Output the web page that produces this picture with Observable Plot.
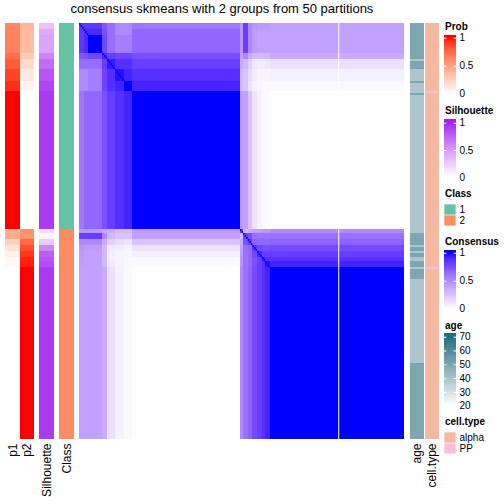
<!DOCTYPE html>
<html><head><meta charset="utf-8">
<script src="https://cdn.jsdelivr.net/npm/d3@7"></script>
<script src="https://cdn.jsdelivr.net/npm/@observablehq/plot@0.6"></script>
<style>
body{margin:0;background:white;}
#chart{position:relative;width:504px;height:504px;overflow:hidden;font-family:"Liberation Sans",Arial,Helvetica,sans-serif;color:black;}
.ttl{position:absolute;left:5px;width:434px;text-align:center;font-size:13px;line-height:13px;white-space:nowrap;}
.lt{position:absolute;left:445px;font-size:10px;line-height:10px;font-weight:bold;white-space:nowrap;}
</style></head>
<body><div id="chart"></div>
<script>
// ---------------- data ----------------
const title = "consensus skmeans with 2 groups from 50 partitions";
const classNames = ["1", "2"];
const classColors = ["#66C2A5", "#FC8D62"];
// sample segments in row/column order (class 1 then class 2)
const segmentSizes = [3, 3, 9, 3, 5, 6, 5, 69, 2, 3, 3, 3, 3, 2, 3, 86];
const segmentClass = ["1","1","1","1","1","1","1","1","2","2","2","2","2","2","2","2"];
// consensus value between segment pairs (symmetric)
const consensusBlocks = [
 [.85,.85,.85,.72,.62,.50,.50,.58, .45,.82,.50,.45,.42,.42,.42,.40],
 [.85,.90,.90,.75,.62,.50,.50,.65, .45,.82,.50,.42,.40,.40,.40,.40],
 [.85,.90,1.0,.78,.62,.55,.55,.65, .45,.82,.50,.42,.40,.40,.40,.40],
 [.72,.75,.78,.90,.82,.80,.80,.75, .40,.50,.35,.30,.30,.30,.30,.35],
 [.62,.62,.62,.82,.95,.88,.88,.82, .35,.30,.20,.10,.08,.08,.10,.13],
 [.50,.50,.55,.80,.88,.97,.92,.88, .30,.25,.15,.08,.05,.05,.05,.06],
 [.50,.50,.55,.80,.88,.92,1.0,.92, .30,.25,.12,.06,.04,.03,.03,.03],
 [.58,.65,.65,.75,.82,.88,.92,1.0, .42,.40,.25,.12,.06,.03,.02,.00],
 [.45,.45,.45,.40,.35,.30,.30,.42, .75,.30,.35,.40,.42,.45,.45,.50],
 [.82,.82,.82,.50,.30,.25,.25,.40, .30,.80,.75,.62,.60,.60,.60,.60],
 [.50,.50,.50,.35,.20,.15,.12,.25, .35,.75,.80,.65,.65,.65,.65,.67],
 [.45,.42,.42,.30,.10,.08,.06,.12, .40,.62,.65,.85,.78,.75,.75,.77],
 [.42,.40,.40,.30,.08,.05,.04,.06, .42,.60,.65,.78,.90,.82,.82,.82],
 [.42,.40,.40,.30,.08,.05,.03,.03, .45,.60,.65,.75,.82,.95,.88,.87],
 [.42,.40,.40,.30,.10,.05,.03,.02, .45,.60,.65,.75,.82,.88,.97,.92],
 [.40,.40,.40,.35,.13,.06,.03,.00, .50,.60,.67,.77,.82,.87,.92,1.0]
];
const selfConsensus = 1;
const p1Seg = [.62,.64,.64,.72,.80,.88,.94,1, .42,.45,.25,.15,.08,.04,.03,0];
const p2Seg = [.38,.36,.36,.28,.20,.12,.06,0, .58,.55,.75,.85,.92,.96,.97,1];
const silhouetteSeg = [.30,.42,.45,.60,.72,.82,.88,.92, .18,.05,.25,.60,.78,.82,.85,.92];
const ageValues = [50,39,50,39,50,39,50,39, 39,50,39,50,39,50,39,50,39,50,39,50];
const ageCounts = [18,1,4,6,1,5,1,67, 2,6,1,2,1,2,2,3,1,5,42,38];
const cellTypeNames = ["alpha", "PP"];
const cellTypeColors = ["#F4B9A0", "#F9C0DE"];
const cellTypeRuns = ["alpha", "PP", "alpha", "PP", "alpha"];
const cellTypeCounts = [34, 1, 87, 1, 85];
const whiteGapColumn = 165.9;
const probTicks = [0, 0.5, 1];
const silhouetteTicks = [0, 0.5, 1];
const consensusTicks = [0, 0.5, 1];
const ageTicks = [20, 30, 40, 50, 60, 70];
const ageDomain = [20, 70];
const ageColor = "#1B6F80";

// ---------------- derived tables ----------------
const N = d3.sum(segmentSizes);
const segStart = segmentSizes.map((_, k) => d3.sum(segmentSizes.slice(0, k)));
const blocks = [];
segmentSizes.forEach((sa, a) => segmentSizes.forEach((sb, b) => blocks.push({
  x1: segStart[b], x2: segStart[b] + sb, y1: segStart[a], y2: segStart[a] + sa, v: consensusBlocks[a][b]
})));
const diag = d3.range(N).map(i => ({i, v: selfConsensus}));
const segRows = segmentSizes.map((s, k) => ({y1: segStart[k], y2: segStart[k] + s, k}));
const probData = segRows.flatMap(r => [
  {col: "p1", y1: r.y1, y2: r.y2, v: p1Seg[r.k]},
  {col: "p2", y1: r.y1, y2: r.y2, v: p2Seg[r.k]}]);
const silData = segRows.map(r => ({col: "Silhouette", y1: r.y1, y2: r.y2, v: silhouetteSeg[r.k]}));
const classData = segRows.map(r => ({col: "Class", y1: r.y1, y2: r.y2, v: segmentClass[r.k]}));
function runs(values, counts, col) {
  let s = 0;
  return values.map((v, j) => { const o = {col, y1: s, y2: s + counts[j], v}; s += counts[j]; return o; });
}
const ageData = runs(ageValues, ageCounts, "age");
const cellData = runs(cellTypeRuns, cellTypeCounts, "cell.type");

// ---------------- drawing ----------------
const FONT = "'Liberation Sans', Arial, Helvetica, sans-serif";
const chart = document.getElementById("chart");
function place(svg, left, top) {
  svg.style.position = "absolute";
  svg.style.left = left + "px";
  svg.style.top = top + "px";
  svg.style.background = "transparent";
  svg.style.overflow = "visible";
  chart.appendChild(svg);
}
function divText(cls, text, top) {
  const d = document.createElement("div");
  d.className = cls; d.textContent = text; d.style.top = top + "px";
  chart.appendChild(d);
}
const base = {width: 504, height: 504, marginTop: 23, marginBottom: 65, marginLeft: 0, marginRight: 0,
  style: {fontFamily: FONT, fontSize: "12px", background: "transparent"}};
const yRows = {domain: [0, N], range: [23, 439], axis: null};
const lab = d3.interpolateLab;

// consensus matrix
place(Plot.plot({...base,
  x: {domain: [0, N], range: [79, 404], axis: null}, y: yRows,
  color: {type: "linear", domain: [0, 1], range: ["white", "blue"], interpolate: lab, clamp: true},
  marks: [
    Plot.rect(blocks, {x1: "x1", x2: "x2", y1: "y1", y2: "y2", fill: "v", shapeRendering: "crispEdges"}),
    Plot.rect(diag, {x1: d => d.i, x2: d => d.i + 1, y1: d => d.i, y2: d => d.i + 1, fill: "v"}),
    Plot.ruleX([whiteGapColumn], {stroke: "white", strokeWidth: 1})
  ]}), 0, 0);

function annot(data, domain, range, color) {
  return Plot.plot({...base,
    x: {type: "band", domain, range, padding: 0, round: false, label: null, axis: null}, y: yRows,
    color,
    marks: [
      Plot.barY(data, {x: "col", y1: "y1", y2: "y2", fill: "v", shapeRendering: "crispEdges"}),
      Plot.axisX({anchor: "bottom", tickRotate: -90, tickSize: 0, tickPadding: 4, fontSize: 12, label: null})
    ]});
}
place(annot(probData, ["p1", "p2"], [5, 34],
  {type: "linear", domain: [0, 1], range: ["white", "red"], interpolate: lab, clamp: true}), 0, 0);
place(annot(silData, ["Silhouette"], [39, 54],
  {type: "linear", domain: [0, 1], range: ["white", "#A020F0"], interpolate: lab, clamp: true}), 0, 0);
place(annot(classData, ["Class"], [59, 74],
  {type: "ordinal", domain: classNames, range: classColors}), 0, 0);
place(annot(ageData, ["age"], [410, 424],
  {type: "linear", domain: ageDomain, range: ["white", ageColor], interpolate: lab, clamp: true}), 0, 0);
place(annot(cellData, ["cell.type"], [425, 439],
  {type: "ordinal", domain: cellTypeNames, range: cellTypeColors}), 0, 0);

// title
divText("ttl", title, 2.3);

// legends
const legBase = {width: 64, height: 504, marginLeft: 4, marginRight: 48, marginTop: 0, marginBottom: 0,
  style: {fontFamily: FONT, fontSize: "10px", background: "transparent"}};
function rampLegend(name, titleBaseline, ticks, yBottom, yTop, extend, colorRange) {
  const lo = ticks[0], hi = ticks[ticks.length - 1];
  const steps = d3.range(0, 60).map(j => {
    const a = lo + (hi + extend - lo) * j / 60, b = lo + (hi + extend - lo) * (j + 1) / 60;
    return {a, b, v: (a + b) / 2};
  });
  divText("lt", name, titleBaseline - 8.5);
  place(Plot.plot({...legBase,
    x: {domain: [0, 1], axis: null},
    y: {domain: [lo, hi], range: [yBottom, yTop], axis: null},
    color: {type: "linear", domain: [lo, hi], range: colorRange, interpolate: lab, clamp: true},
    marks: [
      Plot.barY(steps, {y1: "a", y2: "b", fill: "v", shapeRendering: "crispEdges"}),
      Plot.ruleY(ticks, {x1: 0, x2: 0.2, stroke: "white"}),
      Plot.ruleY(ticks, {x1: 0.8, x2: 1, stroke: "white"}),
      Plot.axisY(ticks, {anchor: "right", tickSize: 0, tickPadding: 3, fontSize: 10, label: null,
        tickFormat: d => String(d)})
    ]}), 440, 0);
}
function catLegend(name, titleBaseline, names, colors, yTop, yBottom) {
  divText("lt", name, titleBaseline - 8.5);
  place(Plot.plot({...legBase,
    x: {axis: null},
    y: {type: "band", domain: names, range: [yTop, yBottom], padding: 0, axis: null},
    color: {type: "ordinal", domain: names, range: colors},
    marks: [
      Plot.cell(names, {y: d => d, fill: d => d, inset: 0.35}),
      Plot.axisY({anchor: "right", tickSize: 0, tickPadding: 3, fontSize: 10, label: null})
    ]}), 440, 0);
}
rampLegend("Prob", 30, probTicks, 93.7, 37.7, 0.05, ["white", "red"]);
rampLegend("Silhouette", 114, silhouetteTicks, 177.3, 122.7, 0.06, ["white", "#A020F0"]);
catLegend("Class", 197.5, classNames, classColors, 204, 226);
rampLegend("Consensus", 245, consensusTicks, 308.7, 252.7, 0.05, ["white", "blue"]);
rampLegend("age", 329, ageTicks, 405.7, 336.7, 2.5, ["white", ageColor]);
catLegend("cell.type", 425.7, cellTypeNames, cellTypeColors, 432, 454);
</script>
</body></html>
